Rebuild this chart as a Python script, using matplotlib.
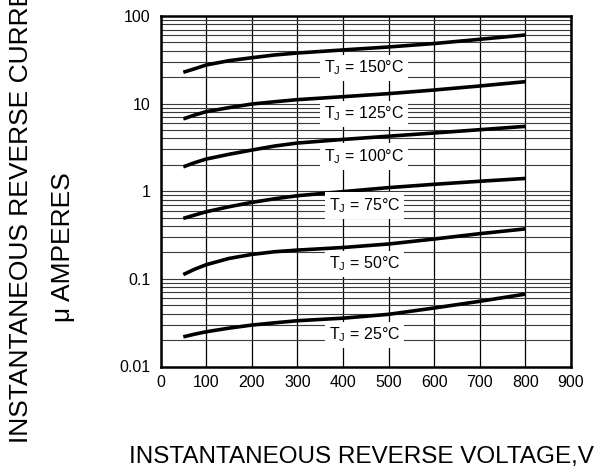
import matplotlib
matplotlib.use('Agg')
import matplotlib.pyplot as plt
from matplotlib.ticker import FixedLocator, FixedFormatter, LogLocator, NullFormatter

plt.rcParams['font.family'] = ['Liberation Sans', 'DejaVu Sans']
plt.rcParams['mathtext.fontset'] = 'custom'
plt.rcParams['mathtext.rm'] = 'Liberation Sans'

# reverse voltage (V) where the curves were read
voltage = [50, 75, 100, 150, 200, 250, 300, 400, 500, 600, 700, 800]

# reverse current (uA) per junction temperature
i_150 = [22.8, 25.0, 27.6, 30.9, 33.4, 35.9, 37.8, 41.0, 44.3, 48.5, 54.2, 60.7]
i_125 = [6.7, 7.41, 8.09, 9.0, 9.89, 10.5, 11.1, 12.0, 13.0, 14.3, 15.9, 17.8]
i_100 = [1.90, 2.12, 2.33, 2.64, 2.95, 3.28, 3.55, 3.90, 4.25, 4.62, 5.04, 5.5]
i_75 = [0.49, 0.535, 0.583, 0.665, 0.746, 0.82, 0.889, 0.99, 1.10, 1.20, 1.30, 1.40]
i_50 = [0.112, 0.129, 0.145, 0.171, 0.190, 0.204, 0.213, 0.228, 0.250, 0.285, 0.328, 0.372]
i_25 = [0.0218, 0.0234, 0.0249, 0.0274, 0.0297, 0.0315, 0.0333, 0.0356, 0.0394, 0.0465, 0.0555, 0.067]

curves = [i_150, i_125, i_100, i_75, i_50, i_25]
labels = ['150', '125', '100', '75', '50', '25']
label_y = [25.5, 7.6, 2.48, 0.684, 0.148, 0.0228]
label_x = 447

x_ticks = [0, 100, 200, 300, 400, 500, 600, 700, 800, 900]
y_ticks = [0.01, 0.1, 1, 10, 100]
y_tick_labels = ['0.01', '0.1', '1', '10', '100']

W, H = 599, 472
fig = plt.figure(figsize=(W / 100, H / 100), dpi=100)
ax = fig.add_axes([160.5 / W, 1 - 366.5 / H, (571 - 160.5) / W, (366.5 - 16) / H])

ax.set_yscale('log')
ax.set_xlim(0, 900)
ax.set_ylim(0.01, 100)

ax.xaxis.set_major_locator(FixedLocator(x_ticks))
ax.yaxis.set_major_locator(FixedLocator(y_ticks))
ax.yaxis.set_major_formatter(FixedFormatter(y_tick_labels))
ax.yaxis.set_minor_locator(LogLocator(base=10, subs=range(2, 10)))
ax.yaxis.set_minor_formatter(NullFormatter())
ax.tick_params(which='both', length=0, labelsize=11.5, pad=7)
ax.tick_params(axis='x', pad=6)

ax.grid(True, which='major', axis='x', color='black', lw=0.9)
ax.grid(True, which='both', axis='y', color='#3a3a3a', lw=0.8)
ax.set_axisbelow(True)
for s in ax.spines.values():
    s.set_linewidth(1.8)

for cur in curves:
    ax.plot(voltage, cur, color='black', lw=2.6, solid_capstyle='butt')

for lab, ly in zip(labels, label_y):
    ax.text(label_x, ly, 'T$_\\mathregular{J}$ = ' + lab + '\u00b0C', fontsize=11.5,
            ha='center', va='center', zorder=5,
            bbox=dict(facecolor='white', edgecolor='none', boxstyle='square,pad=0.25'))

fig.text(361.5 / W, 1 - 457 / H, 'INSTANTANEOUS REVERSE VOLTAGE,V', fontsize=17.5,
         ha='center', va='center')
fig.text(21 / W, 1 - 443 / H, 'INSTANTANEOUS REVERSE CURRENT', fontsize=19,
         rotation=90, ha='center', va='bottom')
fig.text(63 / W, 1 - 322 / H, '\u03bc AMPERES', fontsize=19,
         rotation=90, ha='center', va='bottom')

fig.savefig('out.png', dpi=100)
